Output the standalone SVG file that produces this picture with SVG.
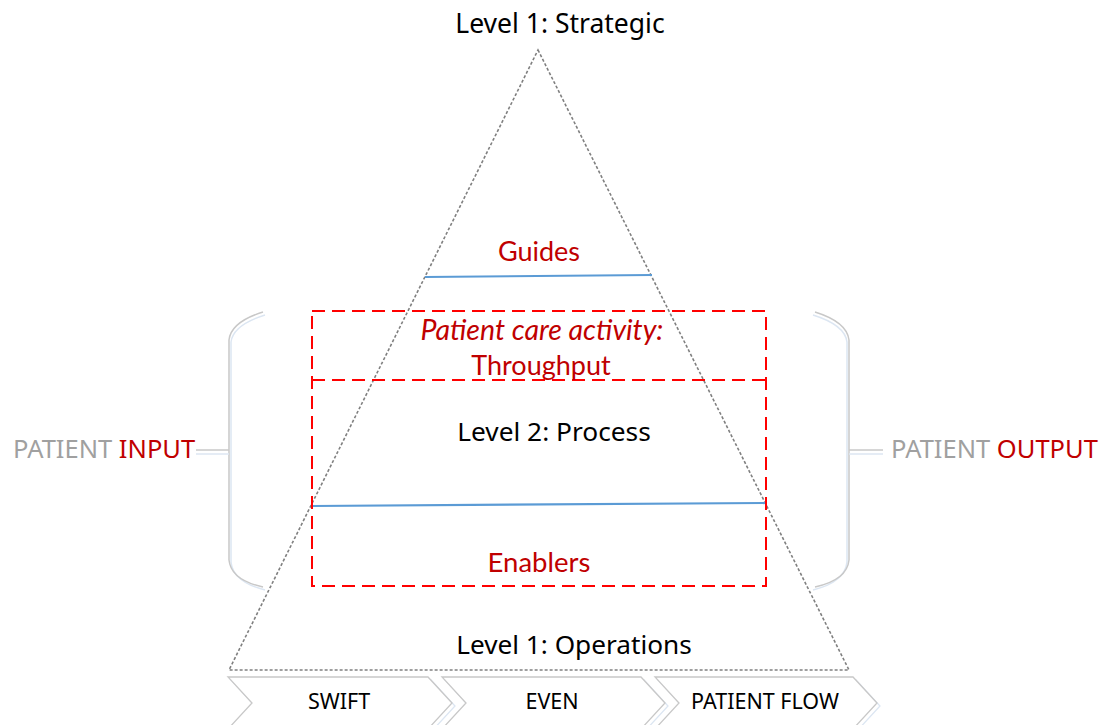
<svg xmlns="http://www.w3.org/2000/svg" width="1104" height="725" viewBox="0 0 1104 725">
<style>
.seg{font-family:"Noto Sans","Open Sans","DejaVu Sans",sans-serif;fill:#000;}
.cal{font-family:Lato,"Liberation Sans",sans-serif;fill:#C00000;}
.gray{fill:#A0A0A0;}
.red{fill:#C00000;}
.tri{fill:none;stroke:#808080;stroke-width:1.6;stroke-dasharray:3 2;}
.blue{stroke:#5B9BD5;stroke-width:2.2;fill:none;}
.rdash{fill:none;stroke:#FF0000;stroke-width:2;stroke-dasharray:13 7;}
.br{fill:none;stroke:#C8C8C8;stroke-width:1.5;}
.brs{fill:none;stroke:#DCE6F2;stroke-width:1.5;}
.chev{fill:#fff;stroke:#C8C8C8;stroke-width:1.3;}
.chevs{fill:none;stroke:#DCE6F2;stroke-width:1.3;}
</style>
<rect width="1104" height="725" fill="#fff"/>

<g id="pyramid">
  <polygon class="tri" points="538,50 849,670 229,670"/>
</g>

<g id="connectors">
  <line class="blue" x1="425" y1="277" x2="652" y2="275"/>
  <line class="blue" x1="313" y1="506" x2="766" y2="503"/>
  <path class="brs" d="M265,315 Q233,325 231,342 L231,562 Q233,582 265,590"/>
  <path class="br" d="M263,312 Q231,322 229,340 L229,560 Q231,580 263,587"/>
  <line class="br" x1="196" y1="450" x2="229" y2="450"/>
  <line class="brs" x1="196" y1="454" x2="229" y2="454"/>
  <path class="brs" d="M813,315 Q845,325 847,342 L847,562 Q845,582 813,590"/>
  <path class="br" d="M815,312 Q847,322 849,340 L849,560 Q847,580 815,587"/>
  <line class="br" x1="849" y1="450" x2="883" y2="450"/>
  <line class="brs" x1="849" y1="454" x2="883" y2="454"/>
</g>

<g id="throughput-box">
  <rect class="rdash" x="312" y="311" width="454" height="275"/>
  <line class="rdash" x1="312" y1="380" x2="766" y2="380"/>
</g>

<g id="strategic">
  <text class="seg" x="560" y="33" font-size="26.5" text-anchor="middle">Level 1: Strategic</text>
</g>
<g id="guides">
  <text class="cal" x="539" y="261" font-size="27" text-anchor="middle">Guides</text>
</g>
<g id="patient-care">
  <text class="cal" x="542" y="340" font-size="28.5" font-style="italic" text-anchor="middle">Patient care activity:</text>
  <text class="cal" x="541" y="375" font-size="27" text-anchor="middle">Throughput</text>
</g>
<g id="process">
  <text class="seg" x="554" y="441" font-size="26.3" text-anchor="middle">Level 2: Process</text>
</g>
<g id="enablers">
  <text class="cal" x="539" y="572" font-size="27.5" text-anchor="middle">Enablers</text>
</g>
<g id="operations">
  <text class="seg" x="574" y="654" font-size="26.2" text-anchor="middle">Level 1: Operations</text>
</g>

<g id="patient-input">
  <text x="13" y="458" font-size="25.5" font-family="'Noto Sans','Open Sans',sans-serif"><tspan class="gray">PATIENT </tspan><tspan class="red">INPUT</tspan></text>
</g>
<g id="patient-output">
  <text x="891" y="458" font-size="25.5" font-family="'Noto Sans','Open Sans',sans-serif"><tspan class="gray">PATIENT </tspan><tspan class="red">OUTPUT</tspan></text>
</g>

<g id="swift">
  <polygon class="chevs" points="231,680 431,680 455,706 431,732 231,732 255,706"/>
  <polygon class="chev" points="228,677 428,677 452,703 428,729 228,729 252,703"/>
  <text class="seg" x="339" y="709" font-size="21.5" text-anchor="middle">SWIFT</text>
</g>
<g id="even">
  <polygon class="chevs" points="445,680 644,680 668,706 644,732 445,732 469,706"/>
  <polygon class="chev" points="442,677 641,677 665,703 641,729 442,729 466,703"/>
  <text class="seg" x="552" y="709" font-size="21.5" text-anchor="middle">EVEN</text>
</g>
<g id="patient-flow">
  <polygon class="chevs" points="658,680 856,680 880,706 856,732 658,732 682,706"/>
  <polygon class="chev" points="655,677 853,677 877,703 853,729 655,729 679,703"/>
  <text class="seg" x="765" y="709" font-size="21.5" text-anchor="middle">PATIENT FLOW</text>
</g>
</svg>
